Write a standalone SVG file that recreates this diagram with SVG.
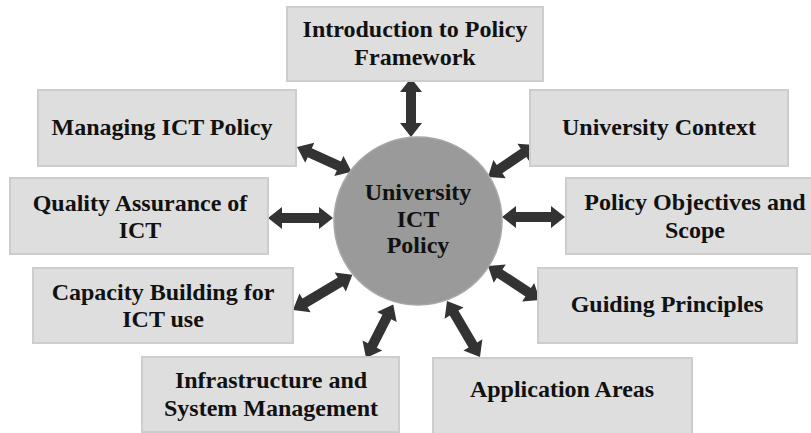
<svg xmlns="http://www.w3.org/2000/svg" width="811" height="433" viewBox="0 0 811 433">
<style>
.box{fill:#dedede;stroke:#cdcdcd;stroke-width:2}
.lbl{font-family:"Liberation Serif","Times New Roman",serif;font-weight:bold;font-size:24px;fill:#111;text-anchor:middle}
.arr{fill:#333333}
</style>
<rect width="811" height="433" fill="#ffffff"/>
<g id="connectors">
<path class="arr" d="M0,0 L14,-11 L14,-5 L45,-5 L45,-11 L59,0 L45,11 L45,5 L14,5 L14,11 Z" transform="translate(411,78) rotate(90)"/>
<path class="arr" d="M0,0 L14,-11 L14,-5 L46,-5 L46,-11 L60,0 L46,11 L46,5 L14,5 L14,11 Z" transform="translate(297,147) rotate(24.4)"/>
<path class="arr" d="M0,0 L14,-11 L14,-5 L43,-5 L43,-11 L57,0 L43,11 L43,5 L14,5 L14,11 Z" transform="translate(488,177) rotate(-34.2)"/>
<path class="arr" d="M0,0 L14,-11 L14,-5 L51,-5 L51,-11 L65,0 L51,11 L51,5 L14,5 L14,11 Z" transform="translate(268,218)"/>
<path class="arr" d="M0,0 L14,-11 L14,-5 L49,-5 L49,-11 L63,0 L49,11 L49,5 L14,5 L14,11 Z" transform="translate(502,217)"/>
<path class="arr" d="M0,0 L14,-11 L14,-5 L55,-5 L55,-11 L69,0 L55,11 L55,5 L14,5 L14,11 Z" transform="translate(293,310) rotate(-30.7)"/>
<path class="arr" d="M0,0 L14,-11 L14,-5 L46,-5 L46,-11 L60,0 L46,11 L46,5 L14,5 L14,11 Z" transform="translate(366,358) rotate(-63)"/>
<path class="arr" d="M0,0 L14,-11 L14,-5 L48,-5 L48,-11 L62,0 L48,11 L48,5 L14,5 L14,11 Z" transform="translate(488,266) rotate(33.2)"/>
<path class="arr" d="M0,0 L14,-11 L14,-5 L51,-5 L51,-11 L65,0 L51,11 L51,5 L14,5 L14,11 Z" transform="translate(447,301) rotate(59.5)"/>
</g>
<g id="center">
<circle cx="418" cy="221" r="84" fill="#9a9a9a" stroke="#a8a8a8" stroke-width="1.5"/>
<text class="lbl" x="418" y="200">University</text>
<text class="lbl" x="418" y="227">ICT</text>
<text class="lbl" x="418" y="253">Policy</text>
</g>
<g id="n-intro">
<rect class="box" x="287" y="7" width="256" height="74"/>
<text class="lbl" x="415" y="37">Introduction to Policy</text>
<text class="lbl" x="415" y="65">Framework</text>
</g>
<g id="n-managing">
<rect class="box" x="38" y="90" width="258" height="76"/>
<text class="lbl" x="162" y="135">Managing ICT Policy</text>
</g>
<g id="n-quality">
<rect class="box" x="10" y="178" width="258" height="76"/>
<text class="lbl" x="140" y="211">Quality Assurance of</text>
<text class="lbl" x="140" y="238">ICT</text>
</g>
<g id="n-capacity">
<rect class="box" x="33" y="268" width="260" height="75"/>
<text class="lbl" x="163" y="300">Capacity Building for</text>
<text class="lbl" x="163" y="327">ICT use</text>
</g>
<g id="n-infra">
<rect class="box" x="142" y="357" width="257" height="75"/>
<text class="lbl" x="271" y="388">Infrastructure and</text>
<text class="lbl" x="271" y="416">System Management</text>
</g>
<g id="n-context">
<rect class="box" x="530" y="90" width="258" height="76"/>
<text class="lbl" x="659" y="135">University Context</text>
</g>
<g id="n-objectives">
<rect class="box" x="566" y="178" width="250" height="76"/>
<text class="lbl" x="695" y="210">Policy Objectives and</text>
<text class="lbl" x="695" y="238">Scope</text>
</g>
<g id="n-guiding">
<rect class="box" x="538" y="268" width="259" height="75"/>
<text class="lbl" x="667" y="312">Guiding Principles</text>
</g>
<g id="n-application">
<rect class="box" x="433" y="358" width="259" height="80"/>
<text class="lbl" x="562" y="397">Application Areas</text>
</g>
</svg>
